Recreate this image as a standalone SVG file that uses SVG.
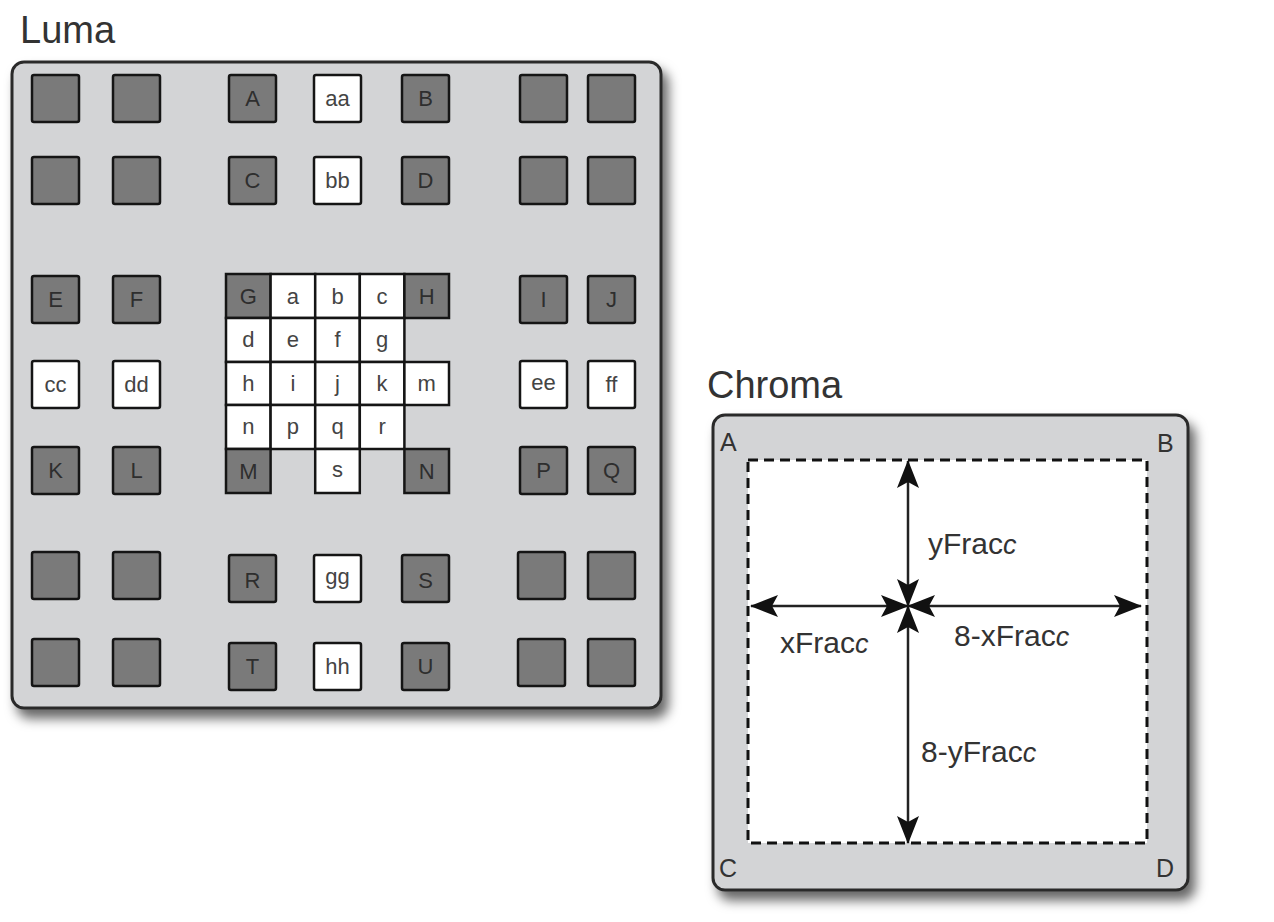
<svg xmlns="http://www.w3.org/2000/svg" width="1274" height="922" viewBox="0 0 1274 922">
<defs>
<filter id="sh" x="-10%" y="-10%" width="130%" height="130%">
<feDropShadow dx="6" dy="9" stdDeviation="6" flood-color="#000" flood-opacity="0.6"/>
</filter>
<marker id="ah" viewBox="0 0 28 22" markerUnits="userSpaceOnUse" markerWidth="28" markerHeight="22" refX="27" refY="11" orient="auto-start-reverse">
<path d="M0,0 L28,11 L0,22 L6,11 z" fill="#111"/>
</marker>
</defs>
<style>
.title{font-family:"Liberation Sans",Arial,sans-serif;font-size:38px;fill:#333}
.panel{fill:#d3d4d6;stroke:#2a2a2a;stroke-width:3}
.dk{fill:#7a7a7a;stroke:#151515;stroke-width:2.5}
.wt{fill:#ffffff;stroke:#151515;stroke-width:2.5}
.lb{font-family:"Liberation Sans",Arial,sans-serif;font-size:22px;fill:#2e2e2e;text-anchor:middle}
.lw{font-family:"Liberation Sans",Arial,sans-serif;font-size:22px;fill:#444;text-anchor:middle}
.corner{font-family:"Liberation Sans",Arial,sans-serif;font-size:25px;fill:#333}
.frac{font-family:"Liberation Sans",Arial,sans-serif;font-size:30px;fill:#333}
.it{font-style:italic;font-size:27px}
.arr{stroke:#222;stroke-width:2.5;fill:none;marker-start:url(#ah);marker-end:url(#ah)}
</style>
<rect width="1274" height="922" fill="#ffffff"/>

<g id="luma">
<text class="title" x="20" y="43">Luma</text>
<rect class="panel" x="12" y="62" width="649" height="646" rx="12" filter="url(#sh)"/>
</g>

<g id="row1">
<g id="r1c1"><rect class="dk" x="32" y="75" width="47" height="47" rx="2"/></g>
<g id="r1c2"><rect class="dk" x="113" y="75" width="47" height="47" rx="2"/></g>
<g id="nA"><rect class="dk" x="229" y="75" width="47" height="47" rx="2"/><text class="lb" x="252.5" y="106">A</text></g>
<g id="naa"><rect class="wt" x="314" y="75" width="47" height="47" rx="2"/><text class="lw" x="337.5" y="106">aa</text></g>
<g id="nB"><rect class="dk" x="402" y="75" width="47" height="47" rx="2"/><text class="lb" x="425.5" y="106">B</text></g>
<g id="r1c6"><rect class="dk" x="520" y="75" width="47" height="47" rx="2"/></g>
<g id="r1c7"><rect class="dk" x="588" y="75" width="47" height="47" rx="2"/></g>
</g>

<g id="row2">
<g id="r2c1"><rect class="dk" x="32" y="157" width="47" height="47" rx="2"/></g>
<g id="r2c2"><rect class="dk" x="113" y="157" width="47" height="47" rx="2"/></g>
<g id="nC"><rect class="dk" x="229" y="157" width="47" height="47" rx="2"/><text class="lb" x="252.5" y="188">C</text></g>
<g id="nbb"><rect class="wt" x="314" y="157" width="47" height="47" rx="2"/><text class="lw" x="337.5" y="188">bb</text></g>
<g id="nD"><rect class="dk" x="402" y="157" width="47" height="47" rx="2"/><text class="lb" x="425.5" y="188">D</text></g>
<g id="r2c6"><rect class="dk" x="520" y="157" width="47" height="47" rx="2"/></g>
<g id="r2c7"><rect class="dk" x="588" y="157" width="47" height="47" rx="2"/></g>
</g>

<g id="row3">
<g id="nE"><rect class="dk" x="32" y="276" width="47" height="47" rx="2"/><text class="lb" x="55.5" y="307">E</text></g>
<g id="nF"><rect class="dk" x="113" y="276" width="47" height="47" rx="2"/><text class="lb" x="136.5" y="307">F</text></g>
<g id="nI"><rect class="dk" x="520" y="276" width="47" height="47" rx="2"/><text class="lb" x="543.5" y="307">I</text></g>
<g id="nJ"><rect class="dk" x="588" y="276" width="47" height="47" rx="2"/><text class="lb" x="611.5" y="307">J</text></g>
</g>

<g id="row4">
<g id="ncc"><rect class="wt" x="32" y="361" width="47" height="47" rx="2"/><text class="lw" x="55.5" y="392">cc</text></g>
<g id="ndd"><rect class="wt" x="113" y="361" width="47" height="47" rx="2"/><text class="lw" x="136.5" y="392">dd</text></g>
<g id="nee"><rect class="wt" x="520" y="361" width="47" height="47" rx="2"/><text class="lw" x="543.5" y="390">ee</text></g>
<g id="nff"><rect class="wt" x="588" y="361" width="47" height="47" rx="2"/><text class="lw" x="611.5" y="392">ff</text></g>
</g>

<g id="row5">
<g id="nK"><rect class="dk" x="32" y="447" width="47" height="47" rx="2"/><text class="lb" x="55.5" y="478">K</text></g>
<g id="nL"><rect class="dk" x="113" y="447" width="47" height="47" rx="2"/><text class="lb" x="136.5" y="478">L</text></g>
<g id="nP"><rect class="dk" x="520" y="447" width="47" height="47" rx="2"/><text class="lb" x="543.5" y="478">P</text></g>
<g id="nQ"><rect class="dk" x="588" y="447" width="47" height="47" rx="2"/><text class="lb" x="611.5" y="478">Q</text></g>
</g>

<g id="row6">
<g id="r6c1"><rect class="dk" x="32" y="552" width="47" height="47" rx="2"/></g>
<g id="r6c2"><rect class="dk" x="113" y="552" width="47" height="47" rx="2"/></g>
<g id="nR"><rect class="dk" x="229" y="555" width="47" height="47" rx="2"/><text class="lb" x="252.5" y="588">R</text></g>
<g id="ngg"><rect class="wt" x="314" y="555" width="47" height="47" rx="2"/><text class="lw" x="337.5" y="584">gg</text></g>
<g id="nS"><rect class="dk" x="402" y="555" width="47" height="47" rx="2"/><text class="lb" x="425.5" y="588">S</text></g>
<g id="r6c6"><rect class="dk" x="518" y="552" width="47" height="47" rx="2"/></g>
<g id="r6c7"><rect class="dk" x="588" y="552" width="47" height="47" rx="2"/></g>
</g>

<g id="row7">
<g id="r7c1"><rect class="dk" x="32" y="639" width="47" height="47" rx="2"/></g>
<g id="r7c2"><rect class="dk" x="113" y="639" width="47" height="47" rx="2"/></g>
<g id="nT"><rect class="dk" x="229" y="643" width="47" height="47" rx="2"/><text class="lb" x="252.5" y="674">T</text></g>
<g id="nhh"><rect class="wt" x="314" y="643" width="47" height="47" rx="2"/><text class="lw" x="337.5" y="674">hh</text></g>
<g id="nU"><rect class="dk" x="402" y="643" width="47" height="47" rx="2"/><text class="lb" x="425.5" y="674">U</text></g>
<g id="r7c6"><rect class="dk" x="518" y="639" width="47" height="47" rx="2"/></g>
<g id="r7c7"><rect class="dk" x="588" y="639" width="47" height="47" rx="2"/></g>
</g>

<g id="grid">
<g id="nG"><rect class="dk" x="226" y="274" width="44.6" height="44"/><text class="lb" x="248.3" y="304">G</text></g>
<g id="na"><rect class="wt" x="270.6" y="274" width="44.6" height="44"/><text class="lw" x="292.9" y="304">a</text></g>
<g id="nb"><rect class="wt" x="315.2" y="274" width="44.6" height="44"/><text class="lw" x="337.5" y="304">b</text></g>
<g id="nc"><rect class="wt" x="359.8" y="274" width="44.6" height="44"/><text class="lw" x="382.1" y="304">c</text></g>
<g id="nH"><rect class="dk" x="404.4" y="274" width="44.6" height="44"/><text class="lb" x="426.7" y="304">H</text></g>

<g id="nd"><rect class="wt" x="226" y="318" width="44.6" height="44"/><text class="lw" x="248.3" y="347">d</text></g>
<g id="ne"><rect class="wt" x="270.6" y="318" width="44.6" height="44"/><text class="lw" x="292.9" y="347">e</text></g>
<g id="nf"><rect class="wt" x="315.2" y="318" width="44.6" height="44"/><text class="lw" x="337.5" y="347">f</text></g>
<g id="ng"><rect class="wt" x="359.8" y="318" width="44.6" height="44"/><text class="lw" x="382.1" y="347">g</text></g>

<g id="nh"><rect class="wt" x="226" y="362" width="44.6" height="43"/><text class="lw" x="248.3" y="391">h</text></g>
<g id="ni"><rect class="wt" x="270.6" y="362" width="44.6" height="43"/><text class="lw" x="292.9" y="391">i</text></g>
<g id="nj"><rect class="wt" x="315.2" y="362" width="44.6" height="43"/><text class="lw" x="337.5" y="391">j</text></g>
<g id="nk"><rect class="wt" x="359.8" y="362" width="44.6" height="43"/><text class="lw" x="382.1" y="391">k</text></g>
<g id="nm"><rect class="wt" x="404.4" y="362" width="44.6" height="43"/><text class="lw" x="426.7" y="391">m</text></g>

<g id="nn"><rect class="wt" x="226" y="405" width="44.6" height="44"/><text class="lw" x="248.3" y="434">n</text></g>
<g id="np"><rect class="wt" x="270.6" y="405" width="44.6" height="44"/><text class="lw" x="292.9" y="434">p</text></g>
<g id="nq"><rect class="wt" x="315.2" y="405" width="44.6" height="44"/><text class="lw" x="337.5" y="434">q</text></g>
<g id="nr"><rect class="wt" x="359.8" y="405" width="44.6" height="44"/><text class="lw" x="382.1" y="434">r</text></g>

<g id="nM"><rect class="dk" x="226" y="449" width="44.6" height="44"/><text class="lb" x="248.3" y="479">M</text></g>
<g id="ns"><rect class="wt" x="315.2" y="449" width="44.6" height="44"/><text class="lw" x="337.5" y="477">s</text></g>
<g id="nN"><rect class="dk" x="404.4" y="449" width="44.6" height="44"/><text class="lb" x="426.7" y="479">N</text></g>
</g>

<g id="chroma">
<text class="title" x="707" y="398">Chroma</text>
<rect class="panel" x="713" y="415" width="475" height="475" rx="12" filter="url(#sh)"/>
<rect x="748" y="460" width="399" height="383" fill="#ffffff" stroke="#111" stroke-width="3" stroke-dasharray="10 6"/>
<text class="corner" x="720" y="451">A</text>
<text class="corner" x="1157" y="452">B</text>
<text class="corner" x="719" y="877">C</text>
<text class="corner" x="1156" y="877">D</text>
</g>

<g id="connectors">
<line class="arr" x1="908" y1="606" x2="908" y2="461"/>
<line class="arr" x1="908" y1="606" x2="908" y2="843"/>
<line class="arr" x1="908" y1="606" x2="751" y2="606"/>
<line class="arr" x1="908" y1="606" x2="1141" y2="606"/>
</g>

<g id="labels">
<text class="frac" x="928" y="554">yFrac<tspan class="it">c</tspan></text>
<text class="frac" x="780" y="653">xFrac<tspan class="it">c</tspan></text>
<text class="frac" x="954" y="646">8-xFrac<tspan class="it">c</tspan></text>
<text class="frac" x="921" y="762">8-yFrac<tspan class="it">c</tspan></text>
</g>
</svg>
